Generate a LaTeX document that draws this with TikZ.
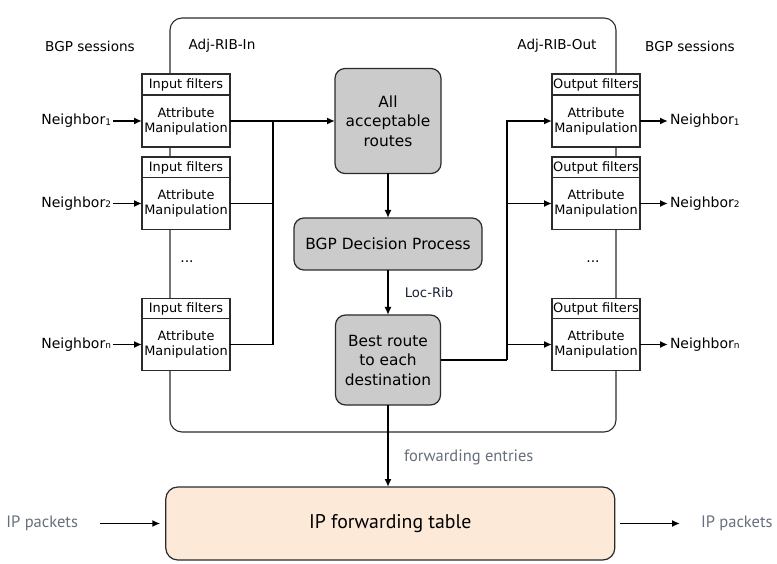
\documentclass[tikz,border=0pt]{standalone}
\usepackage{fontspec}
\setmainfont{DejaVu Sans}
\newfontfamily\bottomfont{PT Sans}
\usetikzlibrary{arrows.meta}
\definecolor{grayfill}{HTML}{CBCBCB}
\definecolor{peach}{HTML}{FCE9D8}
\definecolor{lbl}{HTML}{66707C}
\definecolor{navy}{HTML}{1A2238}
\definecolor{edge}{HTML}{2B2B2B}
\newcommand{\nsub}[1]{\raisebox{-0.6pt}{\fontsize{9}{9}\selectfont #1}}
\begin{document}
\begin{tikzpicture}[x=1pt,y=-1pt,
  every node/.style={inner sep=0pt, outer sep=0pt},
  conn/.style={line width=1.8pt, draw=black},
  arr/.style={conn, -{Latex[length=8pt,width=7pt]}},
  ftitle/.style={draw=edge, line width=1.2pt, fill=white, minimum width=88pt, minimum height=21pt, font=\fontsize{12.9}{15}\selectfont},
  fbody/.style={draw=edge, line width=1.2pt, fill=white, minimum width=88pt, minimum height=52pt, align=center, font=\fontsize{12.9}{15}\selectfont},
  graybox/.style={draw=edge, line width=1.2pt, fill=grayfill, rounded corners=10pt, align=center, font=\fontsize{15.4}{19.5}\selectfont},
  nb/.style={font=\fontsize{14}{16}\selectfont, inner sep=2pt},
  hdr/.style={font=\fontsize{13.6}{16}\selectfont},
  gl/.style={text=lbl, font=\bottomfont\fontsize{16.5}{19}\selectfont}
]
\useasboundingbox (0,0) rectangle (777,564);
% outer frame
\draw[draw=edge, line width=1.1pt, rounded corners=12pt] (170,18) rectangle (616,432);

% headers
\node[hdr] (h1) at (90,46) {BGP sessions};
\node[hdr] (h2) at (222,46) {Adj-RIB-In};
\node[hdr] (h3) at (557,46) {Adj-RIB-Out};
\node[hdr] (h4) at (690,46) {BGP sessions};

% input filter boxes
\node[ftitle] (in1t) at (186,84.5) {Input filters};
\node[fbody] (in1) at (186,121) {Attribute\\Manipulation};
\node[ftitle] (in2t) at (186,167.5) {Input filters};
\node[fbody] (in2) at (186,203.5) {Attribute\\Manipulation};
\node[ftitle] (innt) at (186,308.8) {Input filters};
\node[fbody] (inn) at (186,344.5) {Attribute\\Manipulation};
\node[nb] (dl) at (187,262) {...};

% output filter boxes
\node[ftitle] (out1t) at (596,84.5) {Output filters};
\node[fbody] (out1) at (596,121) {Attribute\\Manipulation};
\node[ftitle] (out2t) at (596,167.5) {Output filters};
\node[fbody] (out2) at (596,203.5) {Attribute\\Manipulation};
\node[ftitle] (outnt) at (596,308.8) {Output filters};
\node[fbody] (outn) at (596,344.5) {Attribute\\Manipulation};
\node[nb] (dr) at (593,262) {...};

% neighbors
\node[nb, anchor=east] (nl1) at (113,121) {Neighbor\nsub{1}};
\node[nb, anchor=east] (nl2) at (113,203.5) {Neighbor\nsub{2}};
\node[nb, anchor=east] (nln) at (113,344.5) {Neighbor\nsub{n}};
\node[nb, anchor=west] (nr1) at (668,121) {Neighbor\nsub{1}};
\node[nb, anchor=west] (nr2) at (668,203.5) {Neighbor\nsub{2}};
\node[nb, anchor=west] (nrn) at (668,344.5) {Neighbor\nsub{n}};

% central boxes
\node[graybox, minimum width=106pt, minimum height=105pt] (all) at (388,121) {All\\acceptable\\routes};
\node[graybox, minimum width=188pt, minimum height=52pt] (dec) at (388,244) {BGP Decision Process};
\node[graybox, minimum width=105pt, minimum height=90pt] (best) at (388,360) {Best route\\to each\\destination};
\node[draw=edge, line width=1.2pt, fill=peach, rounded corners=12pt, minimum width=449pt, minimum height=73pt, font=\bottomfont\fontsize{19.8}{22}\selectfont] (ip) at (390.3,523.5) {IP forwarding table};

% labels
\node[text=navy, font=\fontsize{13.2}{16}\selectfont] (loc) at (429,293) {Loc-Rib};
\node[gl, anchor=west] (fe) at (404,457) {forwarding entries};
\node[gl, anchor=east] (ipl) at (78,523.5) {IP packets};
\node[gl, anchor=west] (ipr) at (701,523.5) {IP packets};

% junctions
\coordinate (jin) at (273,121);
\coordinate (jout) at (507,360);

% connectors
\draw[arr] (nl1.east) -- (in1.west);
\draw[arr] (nl2.east) -- (in2.west);
\draw[arr] (nln.east) -- (inn.west);
\draw[arr] (in1.east) -- (all.west);
\draw[conn] (in2.east) -| (jin);
\draw[conn] (inn.east) -| (jin);
\draw[arr] (all.south) -- (dec.north);
\draw[arr] (dec.south) -- (best.north);
\draw[conn] (best.east) -- (jout);
\draw[arr] (jout) |- (out1.west);
\draw[arr] (jout) |- (out2.west);
\draw[arr] (jout) |- (outn.west);
\draw[arr] (out1.east) -- (nr1.west);
\draw[arr] (out2.east) -- (nr2.west);
\draw[arr] (outn.east) -- (nrn.west);
\draw[arr] (best.south) -- (best.south |- ip.north);
\draw[arr, shorten <=22pt, shorten >=5.5pt] (ipl.east) -- (ip.west);
\draw[arr, shorten <=5pt, shorten >=21pt] (ip.east) -- (ipr.west);
\end{tikzpicture}
\end{document}
